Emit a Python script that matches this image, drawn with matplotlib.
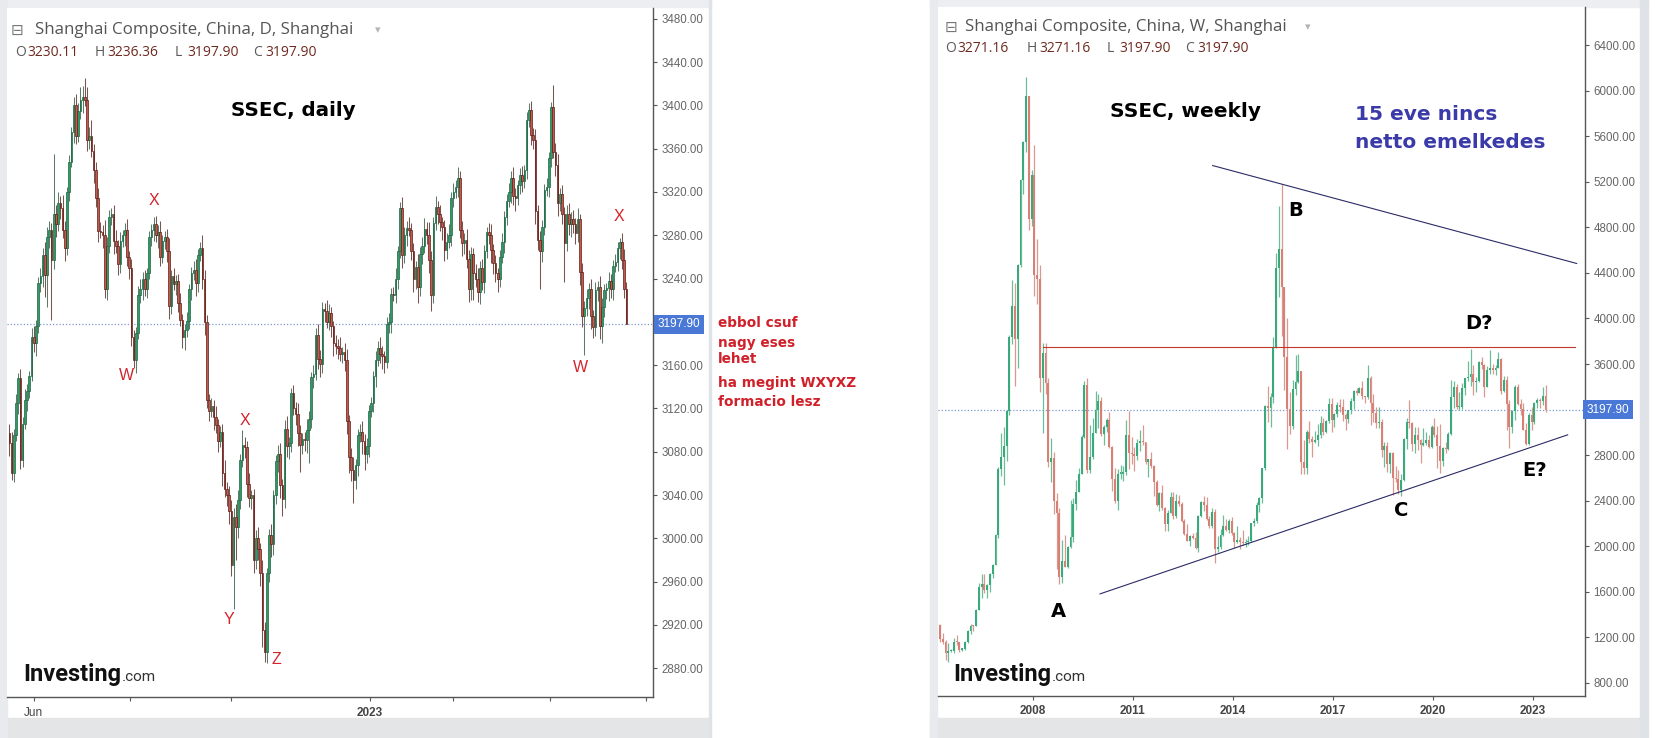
import numpy as np
import matplotlib
matplotlib.use("Agg")
import matplotlib.pyplot as plt
import matplotlib.transforms as mtrans
from matplotlib.patches import Rectangle

W, H = 1664, 738

# ---------------- daily SSEC (left) ----------------
d_open0 = 3097
d_close = [
    3088, 3060, 3095, 3125, 3148, 3072, 3106, 3128, 3136, 3150,
    3186, 3180, 3196, 3236, 3242, 3262, 3243, 3278, 3285, 3257,
    3300, 3290, 3310, 3305, 3285, 3268, 3320, 3348, 3375, 3400,
    3372, 3395, 3405, 3408, 3405, 3368, 3372, 3358, 3340, 3314,
    3284, 3283, 3280, 3230, 3270, 3297, 3300, 3275, 3270, 3253,
    3275, 3280, 3285, 3260, 3250, 3186, 3165, 3190, 3225, 3230,
    3240, 3230, 3245, 3278, 3285, 3290, 3280, 3283, 3260, 3275,
    3278, 3265, 3215, 3242, 3235, 3238, 3217, 3202, 3186, 3192,
    3201, 3230, 3245, 3248, 3236, 3262, 3268, 3240, 3200, 3128,
    3118, 3122, 3112, 3105, 3090, 3098, 3060, 3046, 3040, 3025,
    2975, 3020, 3010, 3035, 3072, 3086, 3084, 3050, 3037, 3040,
    2980, 3000, 2990, 2968, 2915, 2895, 2968, 3003, 2995, 3040,
    3071, 3078, 3049, 3036, 3101, 3085, 3088, 3134, 3120, 3115,
    3097, 3086, 3092, 3091, 3100, 3110, 3149, 3152, 3188, 3166,
    3161, 3212, 3210, 3200, 3208, 3196, 3180, 3178, 3176, 3170,
    3172, 3165, 3108, 3075, 3063, 3054, 3068, 3095, 3098, 3090,
    3078, 3085, 3118, 3125, 3150, 3165, 3176, 3170, 3168, 3163,
    3198, 3200, 3226, 3225, 3240, 3265, 3305, 3262, 3280, 3287,
    3285, 3265, 3240, 3251, 3232, 3263, 3270, 3286, 3280, 3257,
    3225, 3291, 3306, 3300, 3292, 3288, 3266, 3274, 3280, 3314,
    3320, 3325, 3333, 3285, 3273, 3276, 3258, 3230, 3263, 3245,
    3240, 3228, 3250, 3237, 3265, 3283, 3280, 3266, 3254, 3245,
    3240, 3260, 3274, 3297, 3312, 3320, 3333, 3316, 3314, 3326,
    3336, 3330, 3340, 3386, 3396, 3373, 3368, 3302, 3276, 3265,
    3288, 3322, 3325, 3351, 3398, 3357, 3345, 3310, 3318, 3300,
    3273, 3300, 3290, 3295, 3290, 3282, 3295, 3246, 3205, 3213,
    3222, 3230, 3205, 3195, 3229, 3232, 3196, 3214, 3229, 3231,
    3238, 3230, 3252, 3255, 3268, 3274, 3257, 3230.11, 3197.90,
]
# upper / lower wick length above / below the body
d_up = [
    9, 10, 6, 8, 5, 8, 6, 10, 7, 5,
    8, 10, 6, 5, 8, 6, 12, 10, 8, 6,
    55, 8, 10, 6, 12, 8, 5, 6, 5, 8,
    10, 7, 12, 10, 17, 12, 8, 14, 6, 8,
    10, 8, 6, 14, 8, 6, 5, 8, 10, 6,
    8, 5, 6, 10, 5, 8, 6, 5, 8, 10,
    6, 8, 5, 6, 5, 7, 8, 6, 10, 5,
    6, 8, 12, 6, 8, 5, 6, 10, 5, 6,
    8, 5, 6, 8, 10, 5, 6, 12, 8, 6,
    5, 8, 6, 10, 5, 6, 8, 12, 6, 8,
    10, 8, 12, 10, 6, 14, 8, 6, 10, 5,
    6, 8, 10, 6, 12, 8, 5, 6, 10, 5,
    6, 8, 10, 6, 8, 12, 6, 5, 8, 6,
    10, 8, 5, 6, 10, 8, 5, 8, 6, 10,
    8, 6, 5, 10, 8, 6, 5, 8, 6, 10,
    5, 8, 10, 6, 8, 12, 5, 6, 8, 10,
    6, 8, 5, 6, 5, 8, 6, 10, 8, 5,
    6, 8, 5, 6, 10, 5, 6, 10, 8, 6,
    10, 6, 8, 5, 12, 6, 8, 10, 6, 12,
    8, 6, 10, 6, 8, 5, 6, 8, 10, 6,
    8, 6, 10, 6, 8, 6, 10, 8, 6, 5,
    8, 10, 6, 8, 6, 5, 8, 10, 6, 8,
    5, 6, 8, 5, 6, 8, 6, 10, 8, 5,
    6, 8, 5, 8, 6, 8, 6, 10, 6, 8,
    6, 5, 8, 6, 5, 21, 8, 10, 6, 8,
    6, 8, 10, 6, 8, 6, 10, 5, 8, 6,
    8, 6, 10, 6, 8, 6, 10, 8, 6, 5,
    8, 6, 5, 8, 6, 3, 8, 10, 6.25,
]
d_dn = [
    12, 6, 8, 5, 10, 8, 6, 5, 10, 6,
    5, 8, 12, 6, 8, 10, 20, 29, 10, 55,
    8, 12, 6, 10, 8, 12, 6, 8, 5, 10,
    8, 6, 8, 12, 6, 10, 8, 6, 12, 8,
    10, 6, 12, 8, 10, 6, 8, 12, 6, 10,
    8, 6, 10, 8, 10, 8, 8, 12, 6, 8,
    10, 6, 8, 5, 8, 10, 6, 12, 8, 6,
    8, 10, 12, 8, 6, 10, 8, 6, 10, 12,
    6, 8, 10, 6, 12, 8, 6, 10, 12, 8,
    10, 6, 12, 8, 10, 6, 12, 8, 10, 12,
    10, 40, 30, 10, 8, 6, 10, 12, 8, 10,
    12, 8, 10, 12, 15, 9, 10, 8, 12, 10,
    8, 10, 12, 15, 8, 10, 12, 8, 6, 10,
    12, 25, 8, 10, 12, 30, 8, 10, 6, 10,
    12, 8, 10, 6, 8, 10, 12, 8, 10, 6,
    8, 10, 12, 15, 10, 21, 8, 10, 6, 12,
    15, 8, 10, 6, 8, 10, 6, 8, 12, 10,
    6, 8, 10, 6, 8, 10, 6, 12, 8, 10,
    6, 8, 12, 10, 15, 8, 10, 6, 8, 12,
    15, 8, 6, 10, 8, 12, 10, 8, 6, 10,
    8, 6, 10, 8, 12, 10, 8, 12, 10, 25,
    8, 10, 12, 8, 10, 6, 8, 12, 10, 8,
    12, 8, 6, 10, 8, 6, 10, 8, 12, 6,
    8, 10, 6, 8, 6, 10, 8, 12, 10, 35,
    10, 8, 6, 10, 8, 6, 10, 12, 8, 10,
    36, 8, 10, 12, 8, 10, 8, 12, 10, 36,
    8, 10, 12, 10, 8, 10, 12, 16, 10, 8,
    12, 8, 10, 6, 8, 10, 8, 8, 0,
]
d_tick_pos = [10.9, 54.4, 99.9, 162.5, 199.9, 243.6, 286.8]
d_tick_lab = ["Jun", "", "", "2023", "", "", ""]
d_yticks = list(range(2880, 3481, 40))
d_marks = [("W", 52.6, 3150), ("X", 65.2, 3312), ("Y", 99.0, 2925), ("X", 106.2, 3109),
           ("Z", 120.1, 2888), ("W", 257.1, 3158), ("X", 274.6, 3297)]

# ---------------- weekly SSEC (right), drawn as monthly candles from Mar 2005 ----------------
w_start = 2005 + 2 / 12
w_open0 = 1306
w_close = [
    1181, 1159, 1060, 1080, 1083, 1162, 1155, 1092, 1099, 1161,
    1258, 1299, 1298, 1440, 1642, 1672, 1612, 1658, 1752, 1837, 2099, 2675,
    2786, 2881, 3183, 3841, 4109, 3820, 4471, 5218, 5552, 5954, 4871, 5262,
    4383, 4348, 3473, 3693, 3433, 2736, 2776, 2397, 2293, 1729, 1871, 1821,
    1991, 2082, 2373, 2477, 2633, 2959, 3412, 2667, 2779, 2996, 3195, 3277,
    2989, 3051, 3109, 2870, 2592, 2398, 2638, 2638, 2655, 2979, 2820, 2808,
    2790, 2905, 2928, 2911, 2743, 2762, 2701, 2568, 2359, 2468, 2333, 2199,
    2292, 2428, 2262, 2396, 2373, 2225, 2103, 2047, 2086, 2069, 1980, 2269,
    2385, 2366, 2237, 2178, 2301, 1979, 1994, 2098, 2175, 2141, 2220, 2116,
    2033, 2056, 2033, 2026, 2039, 2048, 2202, 2217, 2364, 2420, 2683, 3235,
    3210, 3310, 3748, 4442, 4612, 4277, 3664, 3206, 3053, 3383, 3445, 3539,
    2738, 2688, 3004, 2938, 2917, 2930, 2979, 3085, 3005, 3100, 3250, 3104,
    3159, 3242, 3223, 3155, 3117, 3192, 3273, 3361, 3349, 3393, 3317, 3307,
    3481, 3259, 3169, 3082, 3095, 2847, 2876, 2725, 2821, 2603, 2588, 2494,
    2585, 2941, 3091, 3078, 2899, 2979, 2933, 2886, 2905, 2929, 2872, 3050,
    2977, 2880, 2750, 2860, 2852, 2985, 3310, 3396, 3218, 3225, 3392, 3473,
    3483, 3509, 3441, 3447, 3615, 3591, 3397, 3544, 3568, 3547, 3564, 3640,
    3361, 3462, 3252, 3047, 3186, 3399, 3253, 3202, 3024, 2893, 3151, 3089,
    3255, 3280, 3273, 3323, 3198,
]
w_up = [
    14, 53, 20, 67, 12, 28, 61, 5, 10, 8,
    10, 20, 7, 5, 38, 85, 86, 10, 11, 5, 5, 23,
    208, 169, 10, 10, 226, 203, 10, 10, 10, 170, 0, 38,
    260, 312, 124, 93, 93, 40, 176, 55, 72, 40, 181, 229,
    13, 320, 47, 102, 55, 18, 42, 66, 289, 127, 166, 56,
    29, 9, 19, 72, 8, 96, 41, 76, 46, 127, 207, 138,
    67, 37, 96, 139, 5, 7, 65, 14, 9, 10, 68, 8,
    28, 51, 50, 58, 57, 19, 17, 88, 14, 29, 55, 7,
    9, 59, 68, 32, 33, 24, 98, 51, 95, 67, 23, 39,
    5, 121, 23, 113, 23, 39, 3, 32, 28, 11, 2, 5,
    171, 37, 87, 130, 374, 566, 0, 342, 151, 76, 233, 145,
    0, 195, 14, 93, 30, 80, 90, 55, 40, 10, 50, 50,
    15, 22, 55, 72, 15, 8, 28, 14, 31, 4, 57, 3,
    106, 14, 76, 51, 124, 20, 39, 39, 6, 7, 100, 78,
    45, 7, 38, 197, 13, 69, 69, 6, 137, 71, 45, 10,
    77, 81, 194, 10, 54, 16, 148, 58, 29, 132, 40, 1,
    141, 223, 78, 41, 10, 44, 12, 37, 155, 35, 28, 68,
    11, 29, 37, 30, 9, 16, 26, 44, 58, 59, 15, 75,
    14, 20, 18, 73, 96,
]
w_dn = [
    24, 16, 62, 76, 13, 25, 25, 18, 9, 10,
    10, 25, 39, 1, 4, 101, 20, 71, 58, 35, 3, 31,
    58, 245, 134, 30, 63, 416, 257, 15, 127, 90, 92, 59,
    187, 225, 116, 483, 100, 43, 170, 113, 491, 65, 51, 7,
    10, 9, 45, 52, 5, 3, 10, 28, 28, 14, 2, 156,
    20, 99, 52, 4, 111, 16, 79, 46, 65, 26, 145, 88,
    129, 33, 66, 26, 17, 133, 18, 131, 5, 52, 14, 64,
    67, 3, 20, 14, 21, 15, 3, 2, 48, 10, 6, 31,
    14, 57, 10, 17, 15, 130, 28, 16, 12, 10, 24, 19,
    49, 3, 59, 16, 35, 29, 8, 21, 16, 63, 39, 18,
    115, 161, 50, 9, 250, 430, 291, 356, 70, 20, 57, 15,
    100, 50, 50, 30, 137, 10, 50, 30, 30, 10, 20, 100,
    60, 28, 43, 57, 101, 37, 34, 71, 21, 7, 20, 52,
    10, 197, 78, 41, 41, 65, 156, 72, 81, 154, 26, 32,
    54, 10, 91, 38, 61, 77, 89, 153, 10, 20, 14, 14,
    17, 195, 104, 45, 30, 9, 5, 99, 16, 18, 16, 67,
    23, 80, 113, 86, 9, 38, 85, 2, 31, 34, 47, 1,
    28, 4, 229, 184, 50, 76, 16, 47, 3, 8, 8, 66,
    16, 39, 63, 35, 18,
]
w_years = [2008, 2011, 2014, 2017, 2020, 2023]
w_yticks = list(range(800, 6401, 400))
trend_upper = [(2013.39, 5343), (2024.31, 4483)]
trend_lower = [(2010.01, 1581), (2024.04, 2978)]
level_line = [(2008.31, 3751), (2024.26, 3751)]
w_marks = [("A", 2008.75, 1423), ("B", 2015.89, 4945), ("C", 2019.06, 2312),
           ("D?", 2021.38, 3953), ("E?", 2023.06, 2664)]
last_price = 3197.90

plt.rcParams["font.family"] = ["DejaVu Sans"]


def fx(x):
    return x / W


def fy(y):
    return 1 - y / H


fig = plt.figure(figsize=(W / 100, H / 100), dpi=100)
fig.patch.set_facecolor("white")


def frect(x0, y0, x1, y1, color):
    fig.patches.append(Rectangle((fx(x0), fy(y1)), (x1 - x0) / W, (y1 - y0) / H,
                                 transform=fig.transFigure, color=color, zorder=-5))


def ftext(x, y, s, **kw):
    kw.setdefault("va", "center")
    kw.setdefault("ha", "left")
    return fig.text(fx(x), fy(y), s, **kw)


# panel frames / toolbars
for x0, x1, rb in [(0, 709, 711), (930, 1640, 1648)]:
    frect(x0, 0, rb, 7, "#eceef1")
    frect(x0, 718, x1, 738, "#e4e5e7")
    frect(x0, 0, x0 + 7, 738, "#e8eaed")
    frect(x1, 0, rb, 738, "#dfe2e6")


def candles(ax, x, o, c, hi, lo, width, up_c, dn_c, up_e, dn_e, uw, dw, wlw, elw, minh):
    up = c >= o
    bot = np.minimum(o, c)
    hgt = np.maximum(np.abs(c - o), minh)
    ax.vlines(x, lo, hi, colors=np.where(up, uw, dw), lw=wlw, zorder=2)
    ax.bar(x[up], hgt[up], width, bot[up], color=up_c, edgecolor=up_e, lw=elw, zorder=3)
    ax.bar(x[~up], hgt[~up], width, bot[~up], color=dn_c, edgecolor=dn_e, lw=elw, zorder=3)


def style_axis(ax, blank_val):
    for s in ["left", "top"]:
        ax.spines[s].set_visible(False)
    for s in ["right", "bottom"]:
        ax.spines[s].set_color("#555555")
        ax.spines[s].set_linewidth(1.0)
    ax.yaxis.tick_right()
    ax.tick_params(axis="y", direction="out", length=3, width=0.8, pad=3,
                   colors="#555555", labelsize=8.3, labelcolor="#666666")
    ax.tick_params(axis="x", direction="out", length=3, width=0.8, pad=4,
                   colors="#555555", labelsize=8.5, labelcolor="#444444")
    ticks = ax.get_yticks()
    ax.set_yticklabels(["" if abs(v - blank_val) < 1e-6 else f"{v:.2f}" for v in ticks])
    for lab in ax.get_yticklabels() + ax.get_xticklabels():
        lab.set_fontfamily("Liberation Sans")


# ---------------- left: daily ----------------
ax1 = fig.add_axes([fx(7), fy(697), (653 - 7) / W, (697 - 8) / H])
dc = np.array(d_close, dtype=float)
do = np.concatenate([[d_open0], dc[:-1]])
dh = np.maximum(do, dc) + np.array(d_up)
dl = np.minimum(do, dc) - np.array(d_dn)
dx = np.arange(len(dc))
candles(ax1, dx, do, dc, dh, dl, 0.72, "#2f9a66", "#c4594c", "#1d6644", "#5e1c14",
        "#5e7a6a", "#7a5550", 0.75, 0.5, 0.9)
ax1.set_xlim(-1.04, 289.95)
ax1.set_ylim(2853.4, 3489.9)
ax1.set_yticks(d_yticks)
ax1.set_xticks(d_tick_pos)
ax1.set_xticklabels(d_tick_lab)
style_axis(ax1, 3200)
ax1.get_xticklabels()[3].set_fontweight("bold")
ax1.axhline(last_price, color="#7b98cf", lw=0.9, ls=(0, (1, 1.6)), zorder=1)
for s, x, y in d_marks:
    ax1.text(x, y, s, color="#d3242c", fontsize=11.5, family="Liberation Sans",
             ha="center", va="center")
ax1.text((293 - 7) / 646, 1 - (110 - 8) / 689, "SSEC, daily", transform=ax1.transAxes,
         fontsize=14.3, fontweight="bold", color="black", ha="center", va="center")
tr1 = mtrans.blended_transform_factory(ax1.transAxes, ax1.transData)
ax1.text(1 + 5 / 646, last_price, f"{last_price:.2f}", transform=tr1, color="white",
         fontsize=8.5, family="Liberation Sans", ha="left", va="center", clip_on=False, zorder=10,
         bbox=dict(boxstyle="square,pad=0.3", fc="#4a78d6", ec="none"))

# ---------------- right: weekly ----------------
ax2 = fig.add_axes([fx(938), fy(695.5), (1585 - 938) / W, (695.5 - 7) / H])
wc = np.array(w_close, dtype=float)
wo = np.concatenate([[w_open0], wc[:-1]])
wh = np.maximum(wo, wc) + np.array(w_up)
wl = np.minimum(wo, wc) - np.array(w_dn)
wx = w_start + (np.arange(len(wc)) + 0.5) / 12
candles(ax2, wx, wo, wc, wh, wl, 0.7 / 12, "#3aaa7c", "#d88076", "none", "none",
        "#6cbc98", "#d99990", 0.9, 0, 10)
ax2.set_xlim(2005.15, 2024.56)
ax2.set_ylim(688.5, 6735.5)
ax2.set_yticks(w_yticks)
ax2.set_xticks(w_years)
ax2.set_xticklabels([str(y) for y in w_years])
style_axis(ax2, 3200)
for lab in ax2.get_xticklabels():
    lab.set_fontweight("bold")
ax2.axhline(last_price, color="#7b98cf", lw=0.9, ls=(0, (1, 1.6)), zorder=1)
for (xa, ya), (xb, yb) in [trend_upper, trend_lower]:
    ax2.plot([xa, xb], [ya, yb], color="#2b2b66", lw=0.8, zorder=4)
ax2.plot([level_line[0][0], level_line[1][0]], [level_line[0][1], level_line[1][1]],
         color="#c0392b", lw=0.8, zorder=4)
for s, x, y in w_marks:
    ax2.text(x, y, s, fontsize=14, fontweight="bold", color="black", ha="center", va="center")
tr2 = mtrans.blended_transform_factory(ax2.transAxes, ax2.transData)
ax2.text(1 + 2 / 647, last_price, f"{last_price:.2f}", transform=tr2, color="white",
         fontsize=8.5, family="Liberation Sans", ha="left", va="center", clip_on=False, zorder=10,
         bbox=dict(boxstyle="square,pad=0.3", fc="#4a78d6", ec="none"))

# ---------------- headers ----------------
for x_icon, x_txt, y, title, x_drop, x_btn in [
        (17, 35, 30, "Shanghai Composite, China, D, Shanghai", 378, 394),
        (951, 965, 27, "Shanghai Composite, China, W, Shanghai", 1308, 1329)]:
    ftext(x_icon, y, "\u229f", fontsize=11, color="#777777", ha="center")
    ftext(x_txt, y, title, fontsize=12.2, color="#555555", family="Open Sans")
    ftext(x_drop, y, "\u25be", fontsize=8, color="#b5b5b5", ha="center")
    frect(x_btn, y - 7, x_btn + 13, y + 6, "#d6d6d6")
    frect(x_btn + 15, y - 7, x_btn + 28, y + 6, "#d6d6d6")
    ftext(x_btn + 6.5, y - 0.5, "\u25c9", fontsize=7, color="white", ha="center")
    ftext(x_btn + 21.5, y - 0.5, "\u2731", fontsize=7, color="white", ha="center")

for y, parts in [(52, [(15, "O", "3230.11"), (95, "H", "3236.36"), (175, "L", "3197.90"), (253, "C", "3197.90")]),
                 (49, [(945, "O", "3271.16"), (1027, "H", "3271.16"), (1107, "L", "3197.90"), (1185, "C", "3197.90")])]:
    for x, k, v in parts:
        ftext(x, y, k, fontsize=10, color="#5a5a5a", family="Open Sans")
        ftext(x + 12, y, v, fontsize=10, color="#6e2a20", family="Open Sans")

# Investing.com logos (".com" set right after the word)
renderer = fig.canvas.get_renderer()
for x0 in [23, 953]:
    t = ftext(x0, 681, "Investing", fontsize=17, fontweight="bold", color="#111111",
              family="Roboto", va="baseline")
    bb = t.get_window_extent(renderer)
    fig.text(bb.x1 / W + 0.5 / W, fy(681), ".com", fontsize=11, color="#333333",
             family="Roboto", va="baseline", ha="left")

# side notes
for y, s in [(323, "ebbol csuf"), (343, "nagy eses"), (359, "lehet"),
             (383, "ha megint WXYXZ"), (402, "formacio lesz")]:
    ftext(718, y, s, fontsize=9.8, fontweight="bold", color="#d0202a")

ftext(1355, 115, "15 eve nincs", fontsize=14.5, fontweight="bold", color="#3a3aa8")
ftext(1355, 142, "netto emelkedes", fontsize=14.5, fontweight="bold", color="#3a3aa8")
ftext(1186, 111.5, "SSEC, weekly", fontsize=14.5, fontweight="bold", color="black", ha="center")

fig.savefig("out.png", dpi=100, facecolor="white")
